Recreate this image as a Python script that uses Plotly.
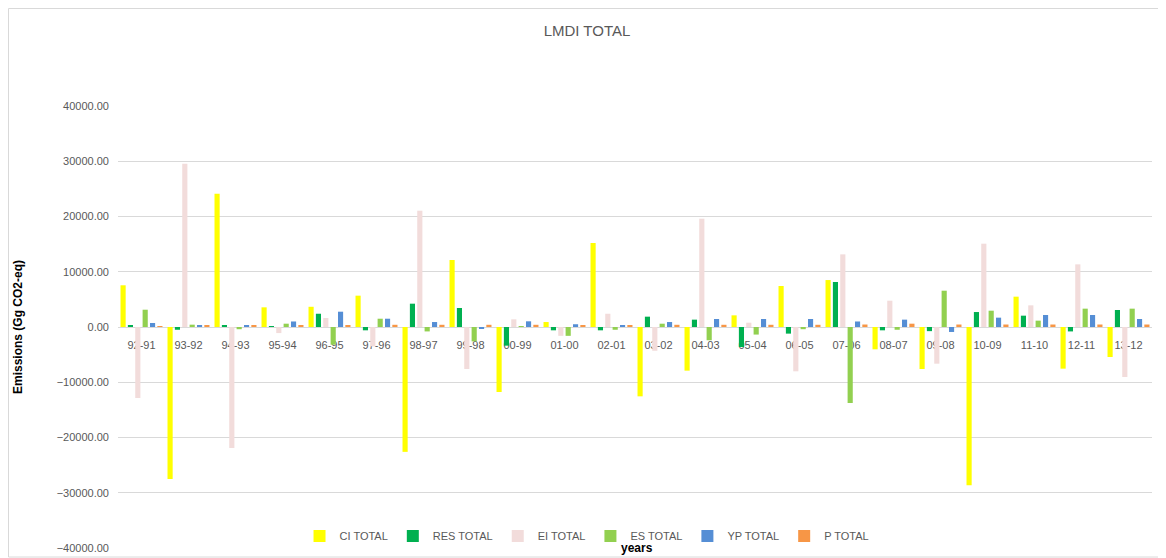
import plotly.graph_objects as go

categories = ["92-91", "93-92", "94-93", "95-94", "96-95", "97-96", "98-97", "99-98", "00-99", "01-00",
              "02-01", "03-02", "04-03", "05-04", "06-05", "07-06", "08-07", "09-08", "10-09", "11-10",
              "12-11", "13-12"]

ci_total = [7550, -27500, 24130, 3560, 3660, 5670, -22600, 12130, -11770, 900,
            15200, -12550, -7900, 2110, 7420, 8500, -4040, -7600, -28650, 5490,
            -7540, -5430]
res_total = [350, -500, 200, 50, 2400, -600, 4220, 3440, -3380, -600,
             -600, 1870, 1330, -3620, -1200, 8150, -600, -750, 2710, 2050,
             -800, 3080]
ei_total = [-12850, 29560, -21900, -1100, 1630, -3500, 21050, -7600, 1390, -1600,
            2400, -4300, 19600, 780, -8020, 13150, 4760, -6640, 15080, 3920,
            11340, -9050]
es_total = [3130, 420, -400, 600, -3200, 1500, -800, -2600, 100, -1600,
            -500, 600, -2400, -1370, -400, -13760, -500, 6570, 2950, 1150,
            3320, 3320]
yp_total = [720, 350, 300, 1000, 2770, 1500, 900, -300, 1030, 500,
            350, 900, 1450, 1450, 1450, 1000, 1330, -900, 1690, 2170,
            2170, 1450]
p_total = [100, 250, 250, 250, 250, 400, 400, 400, 400, 250,
           250, 400, 400, 400, 400, 450, 600, 450, 450, 450,
           450, 450]

series = [
    ("CI TOTAL", ci_total, "#FFFF00"),
    ("RES TOTAL", res_total, "#00B050"),
    ("EI TOTAL", ei_total, "#F2DCDB"),
    ("ES TOTAL", es_total, "#92D050"),
    ("YP TOTAL", yp_total, "#558ED5"),
    ("P TOTAL", p_total, "#F79646"),
]

fig = go.Figure()
for name, vals, color in series:
    fig.add_trace(go.Bar(x=categories, y=vals, name=name, marker_color=color,
                         marker_line_width=0))

font_family = "Liberation Sans"
narrow = "Liberation Sans Narrow, Liberation Sans"
gray = "#595959"

fig.update_layout(
    width=1158, height=550,
    paper_bgcolor="white", plot_bgcolor="white",
    margin=dict(l=110, r=14, t=98, b=10, autoexpand=False),
    barmode="group", bargap=0.06, bargroupgap=0.3,
    font=dict(family=font_family, color=gray, size=11),
    title=dict(text="LMDI TOTAL", x=0.5, xanchor="center", y=0.958, yanchor="middle",
               font=dict(size=15, color=gray, family=font_family)),
    showlegend=True,
    legend=dict(orientation="h", x=0.4536, xanchor="center", y=0.027, yanchor="middle",
                bgcolor="rgba(0,0,0,0)", font=dict(size=11, color=gray, family=narrow),
                itemwidth=30, tracegroupgap=0, itemsizing="constant"),
    xaxis=dict(type="category", anchor="free", position=0.5, showgrid=False,
               showline=True, linecolor="#D9D9D9", linewidth=1,
               ticks="outside", ticklen=8, tickcolor="rgba(0,0,0,0)",
               tickfont=dict(size=11, color=gray), layer="below traces", zeroline=False,
               automargin=False),
    yaxis=dict(range=[-40000, 40000], dtick=10000, tick0=0, tickformat=".2f",
               showgrid=True, gridcolor="#D9D9D9", gridwidth=1, zeroline=False,
               tickfont=dict(size=11, color=gray), ticks="", showline=False,
               ticklabelstandoff=8, automargin=False,
               title=dict(text="<b>Emissions (Gg CO2-eq)</b>", standoff=31,
                          font=dict(size=12, color="black", family=font_family))),
    annotations=[dict(text="<b>years</b>", xref="paper", yref="paper", x=0.502, y=0.0,
                      xanchor="center", yanchor="middle", showarrow=False,
                      font=dict(size=12, color="black", family=font_family))],
    shapes=[dict(type="rect", xref="paper", yref="paper", x0=-0.1059, x1=1.0130,
                 y0=-0.0204, y1=1.2206, line=dict(color="#D9D9D9", width=1),
                 fillcolor="rgba(0,0,0,0)", layer="below")],
)

fig.write_html("out.html")
